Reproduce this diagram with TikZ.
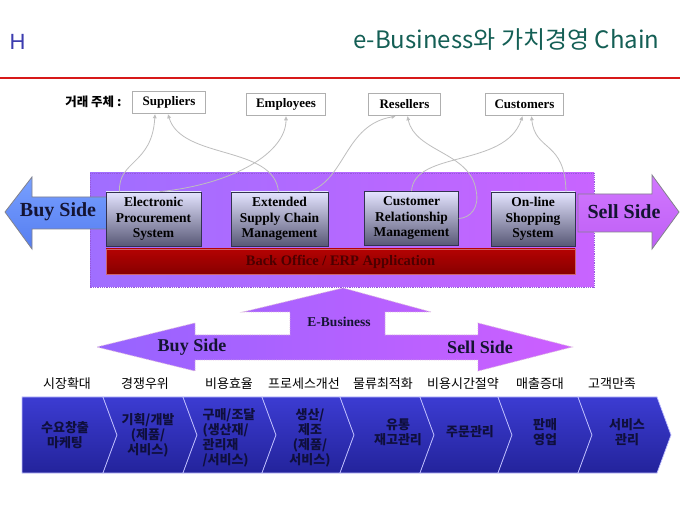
\documentclass[tikz,border=0pt]{standalone}
\usepackage{fontspec}
\setmainfont{Liberation Serif}
\newfontfamily\korfont{Noto Sans CJK KR}
\newfontfamily\hfont{Liberation Sans}
\usetikzlibrary{arrows.meta}
\definecolor{titleteal}{RGB}{20,95,85}
\definecolor{hblue}{RGB}{60,60,175}
\definecolor{redline}{RGB}{215,25,25}
\definecolor{topbord}{RGB}{175,175,175}
\definecolor{conn}{RGB}{190,190,190}
\definecolor{purpL}{RGB}{160,110,255}
\definecolor{purpR}{RGB}{200,100,255}
\definecolor{purpedge}{RGB}{150,90,220}
\definecolor{buyblue}{RGB}{120,160,255}
\definecolor{buyblueD}{RGB}{85,125,240}
\definecolor{sellpurp}{RGB}{210,120,255}
\definecolor{sellpurpD}{RGB}{190,95,245}
\definecolor{arrowedge}{RGB}{130,130,140}
\definecolor{boxtop}{RGB}{228,228,255}
\definecolor{boxbot}{RGB}{88,88,118}
\definecolor{boxedge}{RGB}{50,50,80}
\definecolor{erpT}{RGB}{180,2,2}
\definecolor{erpB}{RGB}{135,0,0}
\definecolor{erpedge}{RGB}{205,100,110}
\definecolor{erptext}{RGB}{75,0,0}
\definecolor{ebL}{RGB}{150,100,255}
\definecolor{ebR}{RGB}{205,95,255}
\definecolor{chevT}{RGB}{60,60,210}
\definecolor{chevB}{RGB}{35,35,155}
\definecolor{chevtext}{RGB}{15,15,60}
\definecolor{navytext}{RGB}{20,20,50}
\tikzset{
  topbox/.style={draw=topbord, line width=1.6pt, fill=white, minimum height=22pt,
    inner xsep=6pt, inner ysep=0pt, font=\bfseries\fontsize{13}{15}\selectfont},
  innerbox/.style={draw=boxedge, line width=0.6pt, top color=boxtop, bottom color=boxbot,
    minimum height=54pt, align=center, inner sep=0pt,
    font=\bfseries\fontsize{13.5}{15.5}\selectfont},
  connline/.style={draw=conn, line width=0.8pt, -{Triangle[length=4pt,width=3.6pt]}},
  bigarrow/.style={draw=arrowedge, line width=0.8pt},
  sidetext/.style={font=\bfseries\fontsize{20}{22}\selectfont, text=navytext},
  chevbox/.style={top color=chevT, bottom color=chevB, draw=white!75!blue, line width=0.7pt},
  chevlabel/.style={font=\korfont\bfseries\fontsize{13}{15}\selectfont, text=chevtext, align=center},
  goallabel/.style={font=\korfont\fontsize{13}{15}\selectfont, text=black},
}
\begin{document}
\begin{tikzpicture}[x=1pt,y=-1pt]
\useasboundingbox[fill=white] (0,0) rectangle (680,510);

% header
\node[anchor=west, text=hblue, font=\hfont\fontsize{22}{24}\selectfont] (hmark) at (6,42) {H};
\node[anchor=east, text=titleteal, font=\korfont\fontsize{24}{26}\selectfont] (title) at (663,40) {e-Business와 가치경영 Chain};
\draw[redline, line width=2.6pt] (0,78) -- (680,78);

% participants
\node[anchor=east, font=\korfont\bfseries\fontsize{12.5}{15}\selectfont] (actors) at (125,102) {거래 주체 :};
\node[topbox, minimum width=73pt] (sup) at (169,102.5) {Suppliers};
\node[topbox, minimum width=79pt] (emp) at (286,104.5) {Employees};
\node[topbox, minimum width=72pt] (res) at (404.5,104.5) {Resellers};
\node[topbox, minimum width=78pt] (cus) at (524.5,104.5) {Customers};

% purple area
\path[left color=purpL, right color=purpR] (90,173) rectangle (594,287);
\draw[purpedge, densely dotted, line width=0.8pt] (90,173) rectangle (594,287);

% side arrows
\path[bigarrow, top color=buyblue, bottom color=buyblueD]
  (5,212) -- (32,177) -- (32,197) -- (108,197) -- (108,229) -- (32,229) -- (32,249) -- cycle;
\node[sidetext] (buy) at (58,212) {Buy Side};
\path[bigarrow, top color=sellpurp, bottom color=sellpurpD]
  (578,194) -- (652,194) -- (652,175) -- (679,212) -- (652,249) -- (652,232) -- (578,232) -- cycle;
\node[sidetext] (sell) at (624,212) {Sell Side};

% inner boxes
\node[innerbox, minimum width=95pt] (epro) at (153.5,219) {Electronic\\Procurement\\System};
\node[innerbox, minimum width=97pt] (escm) at (279.5,219) {Extended\\Supply Chain\\Management};
\node[innerbox, minimum width=94pt] (crm) at (411.5,218.5) {Customer\\Relationship\\Management};
\node[innerbox, minimum width=84pt] (onl) at (533,219) {On-line\\Shopping\\System};

% connectors
\draw[connline] ([xshift=-34pt]epro.north) .. controls (118,160) and (152,165) .. ([xshift=-14pt]sup.south);
\draw[connline] ([xshift=-1pt]escm.north) .. controls (274,145) and (182,160) .. ([xshift=-1pt]sup.south);
\draw[connline] ([xshift=6pt]epro.north) .. controls (235,184) and (286,152) .. (emp.south);
\draw[connline] ([xshift=30pt]escm.north) .. controls (346,178) and (345,125) .. ([xshift=-9pt]res.south);
\draw[connline] (crm.east) .. controls (470,218) and (480,208) .. (476,190) .. controls (470,152) and (415,152) .. ([xshift=3pt]res.south);
\draw[connline] (crm.north) .. controls (414,150) and (505,168) .. ([xshift=-2pt]cus.south);
\draw[connline] ([xshift=33pt]onl.north) .. controls (565,140) and (535,152) .. ([xshift=7pt]cus.south);

% back office
\node[draw=erpedge, line width=0.8pt, top color=erpT, bottom color=erpB, minimum width=469pt, minimum height=25pt,
  inner sep=0pt, text=erptext, font=\bfseries\fontsize{14.5}{16}\selectfont] (erp) at (340.5,261.5) {Back Office / ERP Application};

% E-Business arrow
\path[left color=ebL, right color=ebR]
  (343,288) -- (431,312) -- (385,312) -- (385,335) -- (478,335) -- (478,323) -- (572,347) -- (478,371)
  -- (478,360) -- (195,360) -- (195,371) -- (97,347) -- (195,323) -- (195,335) -- (290,335)
  -- (290,312) -- (243,312) -- cycle;
\draw[white!70!violet, densely dotted, line width=0.8pt]
  (343,288) -- (431,312) -- (385,312) -- (385,335) -- (478,335) -- (478,323) -- (572,347) -- (478,371)
  -- (478,360) -- (195,360) -- (195,371) -- (97,347) -- (195,323) -- (195,335) -- (290,335)
  -- (290,312) -- (243,312) -- cycle;
\node[font=\bfseries\fontsize{13.5}{15}\selectfont, text=navytext] (eb) at (339,321.5) {E-Business};
\node[font=\bfseries\fontsize{18}{20}\selectfont, text=navytext] (ebbuy) at (192,347.5) {Buy Side};
\node[font=\bfseries\fontsize{18}{20}\selectfont, text=navytext] (ebsell) at (480,347.5) {Sell Side};

% goal labels
\node[goallabel] (g1) at (67,384) {시장확대};
\node[goallabel] (g2) at (145,384) {경쟁우위};
\node[goallabel] (g3) at (229,384) {비용효율};
\node[goallabel] (g4) at (304,384) {프로세스개선};
\node[goallabel] (g5) at (383,384) {물류최적화};
\node[goallabel] (g6) at (463,384) {비용시간절약};
\node[goallabel] (g7) at (540,384) {매출증대};
\node[goallabel] (g8) at (612,384) {고객만족};

% value chain chevrons
\path[chevbox] (22,397) -- (103,397) -- (117,435) -- (103,473) -- (22,473) -- cycle;
\foreach \l/\r in {103/183,183/262,262/340,340/420,420/498,498/578,578/657}
  \path[chevbox] (\l,397) -- (\r,397) -- ({\r+14},435) -- (\r,473) -- (\l,473) -- ({\l+14},435) -- cycle;

\node[chevlabel] (c1) at (65,435) {수요창출\\마케팅};
\node[chevlabel] (c2) at (148,435) {기획/개발\\(제품/\\서비스)};
\node[chevlabel, align=left] (c3) at (229,438) {구매/조달\\(생산재/\\관리재\\/서비스)};
\node[chevlabel] (c4) at (310,438) {생산/\\제조\\(제품/\\서비스)};
\node[chevlabel] (c5) at (398,432) {유통\\재고관리};
\node[chevlabel] (c6) at (470,432) {주문관리};
\node[chevlabel] (c7) at (545,432) {판매\\영업};
\node[chevlabel] (c8) at (627,432) {서비스\\관리};
\end{tikzpicture}
\end{document}
